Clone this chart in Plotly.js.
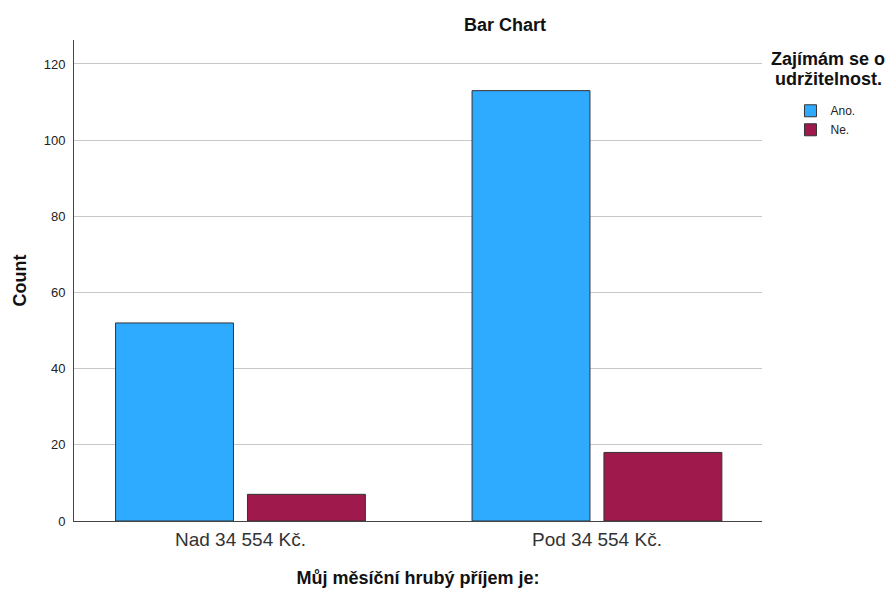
<!DOCTYPE html>
<html>
<head>
<meta charset="utf-8">
<script src="https://cdn.plot.ly/plotly-3.0.1.min.js"></script>
<style>html,body{margin:0;padding:0;background:#fff;}#chart{width:889px;height:590px;}</style>
</head>
<body>
<div id="chart"></div>
<script>
const categories = ["Nad 34 554 Kč.", "Pod 34 554 Kč."];
const anoValues = [52, 113];
const neValues = [7, 18];
const seriesNames = ["Ano.", "Ne."];
const yTicks = [0, 20, 40, 60, 80, 100, 120];
const legendTitleLines = ["Zajímám se o", "udržitelnost."];

const FONT = "Liberation Sans, Arial, sans-serif";

const traces = [
  {type: "bar", name: seriesNames[0], x: categories, y: anoValues,
   marker: {color: "#2EABFF", line: {color: "#333333", width: 1}}},
  {type: "bar", name: seriesNames[1], x: categories, y: neValues,
   marker: {color: "#A0194C", line: {color: "#333333", width: 1}}}
];

const layout = {
  width: 889, height: 590,
  margin: {l: 74, r: 127, t: 40, b: 69},
  paper_bgcolor: "#fff", plot_bgcolor: "#fff",
  font: {family: FONT, color: "#222", size: 12},
  barmode: "group",
  bargap: 0.26,
  bargroupgap: 0.106,
  showlegend: true,
  legend: {x: 1.0414, xanchor: "left", y: 0.883, yanchor: "top", font: {size: 12, family: FONT, color: "#222"},
           itemwidth: 30, tracegroupgap: 0, bgcolor: "rgba(0,0,0,0)"},
  xaxis: {type: "category", range: [-0.467, 1.463], showgrid: false, showline: true, linecolor: "#444", linewidth: 1,
          ticks: "", tickfont: {size: 19, color: "#333", family: FONT}, ticklabelstandoff: 1, fixedrange: true,
          title: {text: "Můj měsíční hrubý příjem je:", font: {size: 18, family: FONT, color: "#111", weight: "bold"}, standoff: 22}},
  yaxis: {range: [0, 126.3], tickvals: yTicks, showgrid: true, gridcolor: "#c8c8c8", gridwidth: 1,
          showline: true, linecolor: "#444", linewidth: 1, zeroline: false, ticks: "",
          tickfont: {size: 13, color: "#222", family: FONT}, ticklabelstandoff: 5,
          title: {text: "Count", font: {size: 18, family: FONT, color: "#111", weight: "bold"}, standoff: 12}},
  annotations: [
    {text: "<b>Bar Chart</b>", xref: "paper", yref: "paper", x: 1, xshift: -257, y: 1, yshift: 15, xanchor: "center", yanchor: "middle",
     showarrow: false, font: {size: 18, family: FONT, color: "#111"}},
    {text: "<b>" + legendTitleLines[0] + "</b>", xref: "paper", yref: "paper", x: 1, xshift: 66, y: 1, yshift: -19,
     xanchor: "center", yanchor: "middle", showarrow: false, font: {size: 18, family: FONT, color: "#111"}},
    {text: "<b>" + legendTitleLines[1] + "</b>", xref: "paper", yref: "paper", x: 1, xshift: 66, y: 1, yshift: -39,
     xanchor: "center", yanchor: "middle", showarrow: false, font: {size: 18, family: FONT, color: "#111"}}
  ]
};

Plotly.newPlot("chart", traces, layout, {displayModeBar: false, staticPlot: true});
</script>
</body>
</html>
